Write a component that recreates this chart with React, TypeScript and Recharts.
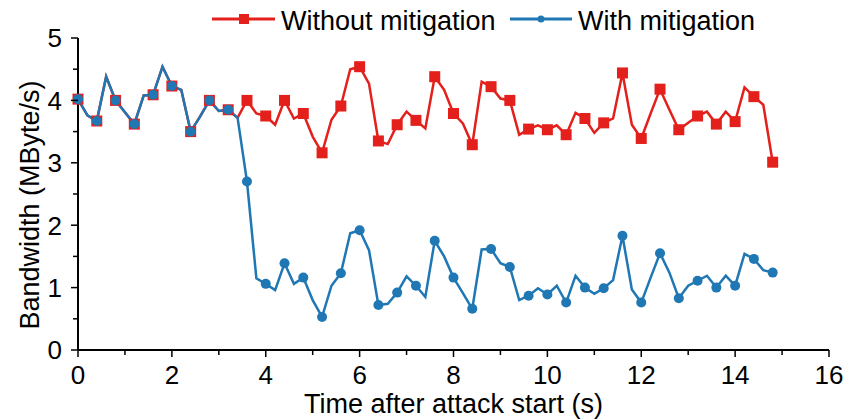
import { LineChart, Line, XAxis, YAxis } from 'recharts';

// time axis, seconds after attack start (sampled every 0.2 s, markers every 0.4 s)
const time = [
  0, 0.2, 0.4, 0.6, 0.8, 1.0, 1.2, 1.4, 1.6, 1.8, 2.0, 2.2, 2.4, 2.6, 2.8,
  3.0, 3.2, 3.4, 3.6, 3.8, 4.0, 4.2, 4.4, 4.6, 4.8, 5.0, 5.2, 5.4, 5.6, 5.8,
  6.0, 6.2, 6.4, 6.6, 6.8, 7.0, 7.2, 7.4, 7.6, 7.8, 8.0, 8.2, 8.4, 8.6, 8.8,
  9.0, 9.2, 9.4, 9.6, 9.8, 10.0, 10.2, 10.4, 10.6, 10.8, 11.0, 11.2, 11.4, 11.6, 11.8,
  12.0, 12.2, 12.4, 12.6, 12.8, 13.0, 13.2, 13.4, 13.6, 13.8, 14.0, 14.2, 14.4, 14.6, 14.8,
];

const withoutMitigation = [
  4.02, 3.76, 3.67, 4.38, 4.0, 3.81, 3.62, 4.08, 4.09, 4.54, 4.23, 4.17, 3.5, 3.74, 4.0,
  3.83, 3.85, 3.72, 4.0, 3.79, 3.75, 3.61, 4.0, 3.71, 3.79, 3.42, 3.16, 3.69, 3.91, 4.5,
  4.54, 4.27, 3.35, 3.3, 3.61, 3.82, 3.68, 3.55, 4.38, 4.17, 3.79, 3.63, 3.29, 4.3, 4.22,
  4.03, 4.0, 3.45, 3.54, 3.6, 3.53, 3.6, 3.45, 3.8, 3.71, 3.48, 3.64, 3.71, 4.44, 3.61,
  3.39, 3.79, 4.18, 3.85, 3.53, 3.64, 3.75, 3.82, 3.62, 3.82, 3.66, 4.21, 4.06, 3.93, 3.01,
];

const withMitigation = [
  4.02, 3.76, 3.67, 4.38, 4.0, 3.81, 3.62, 4.08, 4.09, 4.54, 4.23, 4.17, 3.5, 3.74, 4.0,
  3.83, 3.85, 3.72, 2.7, 1.15, 1.06, 0.96, 1.39, 1.06, 1.16, 0.8, 0.53, 1.03, 1.23, 1.87,
  1.92, 1.6, 0.72, 0.74, 0.92, 1.18, 1.03, 0.85, 1.75, 1.5, 1.16, 0.91, 0.66, 1.61, 1.62,
  1.39, 1.33, 0.8, 0.87, 0.99, 0.89, 1.03, 0.76, 1.19, 1.0, 0.9, 0.99, 1.12, 1.83, 0.97,
  0.76, 1.16, 1.55, 1.24, 0.83, 1.03, 1.11, 1.19, 1.0, 1.19, 1.03, 1.54, 1.46, 1.28, 1.24,
];

const xTicks = [0, 1, 2, 3, 4, 5, 6, 7, 8, 9, 10, 11, 12, 13, 14, 15, 16];
const yTicks = [0, 0.5, 1, 1.5, 2, 2.5, 3, 3.5, 4, 4.5, 5];

const RED = '#e3201b';
const BLUE = '#1f77b4';
const FONT = '"Liberation Sans", Arial, sans-serif';

const data = time.map((t, i) => ({
  t,
  without: withoutMitigation[i],
  with: withMitigation[i],
}));

const squareDot = (p: any) => {
  const { cx, cy, index } = p;
  if (index % 2 !== 0 || cx == null) return <g key={`sq${index}`} />;
  return <rect key={`sq${index}`} x={cx - 5.5} y={cy - 5.5} width={11} height={11} fill={RED} />;
};

const circleDot = (p: any) => {
  const { cx, cy, index } = p;
  if (index % 2 !== 0 || cx == null) return <g key={`ci${index}`} />;
  return <circle key={`ci${index}`} cx={cx} cy={cy} r={5} fill={BLUE} />;
};

const XTick = ({ x, y, payload }: any) => {
  const v = payload.value;
  const major = v % 2 === 0;
  return (
    <g>
      <line x1={x} x2={x} y1={y} y2={y + (major ? 7 : 5)} stroke="#000" strokeWidth={1.5} />
      {major && (
        <text x={x} y={y + 34} textAnchor="middle" fontFamily={FONT} fontSize={26} fill="#000">
          {v}
        </text>
      )}
    </g>
  );
};

const YTick = ({ x, y, payload }: any) => {
  const v = payload.value;
  const major = Number.isInteger(v);
  return (
    <g>
      <line x1={x - (major ? 7 : 5)} x2={x} y1={y} y2={y} stroke="#000" strokeWidth={1.5} />
      {major && (
        <text x={x - 16} y={y} dy="0.36em" textAnchor="end" fontFamily={FONT} fontSize={26} fill="#000">
          {v}
        </text>
      )}
    </g>
  );
};

export default function App() {
  return (
    <div style={{ position: 'absolute', left: 0, top: 0, width: 843, height: 420, background: '#fff' }}>
      <LineChart width={843} height={420} data={data} margin={{ top: 38, right: 14, left: 18, bottom: 0 }}>
        <XAxis
          dataKey="t"
          type="number"
          domain={[0, 16]}
          ticks={xTicks}
          interval={0}
          height={70}
          tickSize={0}
          tickMargin={0}
          tickLine={false}
          tick={<XTick />}
          axisLine={{ stroke: '#000', strokeWidth: 2 }}
          label={(props: any) => {
            const vb = props.viewBox || { x: 78, y: 350, width: 751, height: 70 };
            return (
              <text x={vb.x + vb.width / 2} y={vb.y + 63} textAnchor="middle" fontFamily={FONT} fontSize={27} fill="#000">
                Time after attack start (s)
              </text>
            );
          }}
        />
        <YAxis
          type="number"
          domain={[0, 5]}
          ticks={yTicks}
          interval={0}
          width={60}
          tickSize={0}
          tickMargin={0}
          tickLine={false}
          tick={<YTick />}
          axisLine={{ stroke: '#000', strokeWidth: 2 }}
          label={(props: any) => {
            const vb = props.viewBox || { x: 18, y: 38, width: 60, height: 312 };
            const cx = vb.x + 21;
            const cy = vb.y + vb.height / 2 + 11;
            return (
              <text x={cx} y={cy} transform={`rotate(-90, ${cx}, ${cy})`} textAnchor="middle" fontFamily={FONT} fontSize={27} fill="#000">
                Bandwidth (MByte/s)
              </text>
            );
          }}
        />
        <Line
          type="linear"
          dataKey="without"
          stroke={RED}
          strokeWidth={2.5}
          dot={squareDot}
          activeDot={false}
          isAnimationActive={false}
        />
        <Line
          type="linear"
          dataKey="with"
          stroke={BLUE}
          strokeWidth={2.5}
          dot={circleDot}
          activeDot={false}
          isAnimationActive={false}
        />
      </LineChart>
      <svg width={843} height={40} style={{ position: 'absolute', left: 0, top: 0 }}>
        <line x1={212} x2={275} y1={19} y2={19} stroke={RED} strokeWidth={3} />
        <rect x={239} y={14} width={10} height={10} fill={RED} />
        <text x={281} y={30} fontFamily={FONT} fontSize={27} fill="#000">Without mitigation</text>
        <line x1={510} x2={572} y1={19} y2={19} stroke={BLUE} strokeWidth={3} />
        <circle cx={541} cy={19} r={3.5} fill={BLUE} />
        <text x={578} y={30} fontFamily={FONT} fontSize={27} fill="#000">With mitigation</text>
      </svg>
    </div>
  );
}
